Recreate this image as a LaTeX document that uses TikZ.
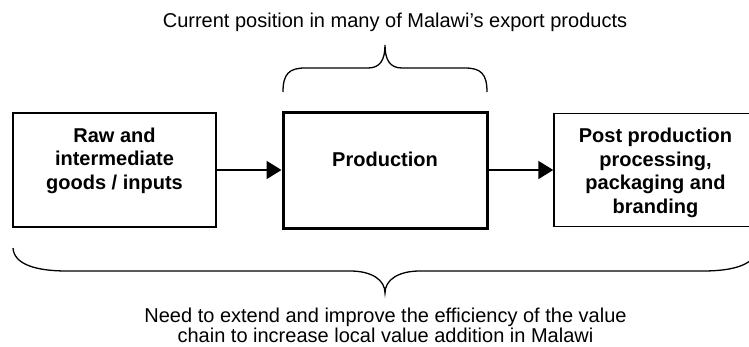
\documentclass[tikz,border=0pt]{standalone}
\usepackage{fontspec}
\setmainfont{Liberation Sans}
\usetikzlibrary{arrows.meta}
\newcommand{\boxfont}{\fontsize{20}{23.5}\selectfont\bfseries}
\newcommand{\capfont}{\fontsize{20}{20.5}\selectfont}
\newcommand{\topgap}[1]{\rule{0pt}{#1}}
\begin{document}
\begin{tikzpicture}[x=1pt,y=-1pt,
  stagebox/.style={draw,line width=1.5pt,inner sep=0pt},
  mainbox/.style={draw,line width=3pt,inner sep=0pt},
  flow/.style={line width=2pt,-{Triangle[length=15pt,width=18pt]}},
  bracepath/.style={line width=1.3pt},
  caption/.style={inner sep=0pt,font=\capfont}]
\useasboundingbox (0,0) rectangle (749,346);

\node[stagebox] (raw) at (114.5,170)
  {\parbox[c][114pt][t]{203pt}{\centering\boxfont\topgap{29pt}Raw and\\intermediate\\goods / inputs}};
\node[mainbox] (prod) at (385,170)
  {\parbox[c][116pt][t]{204pt}{\centering\boxfont\topgap{54pt}Production}};
\node[stagebox] (post) at (655.5,170)
  {\parbox[c][113pt][t]{203pt}{\centering\boxfont\topgap{29pt}Post production\\processing,\\packaging and\\branding}};

\draw[flow] (raw) -- (prod);
\draw[flow] (prod) -- (post);

% top brace over Production
\draw[bracepath] (283,92) .. controls (283,74) and (289,68) .. (305,68) -- (368,68)
  .. controls (380,68) and (385,60) .. (385,45)
  .. controls (385,60) and (390,68) .. (402,68) -- (465,68)
  .. controls (481,68) and (487,74) .. (487,92);

% bottom brace under the whole chain
\draw[bracepath] (13,248) .. controls (14,264) and (35,271) .. (67,271) -- (350,271)
  .. controls (372,271) and (385,280) .. (385,293)
  .. controls (385,280) and (398,271) .. (420,271) -- (703,271)
  .. controls (735,271) and (756,264) .. (757,248);

\node[caption,anchor=base] (toplabel) at (395,27) {Current position in many of Malawi’s export products};
\node[caption,anchor=base] (bottomlabel) at (385.5,322)
  {\parbox[t]{560pt}{\centering Need to extend and improve the efficiency of the value\\chain to increase local value addition in Malawi}};
\end{tikzpicture}
\end{document}
